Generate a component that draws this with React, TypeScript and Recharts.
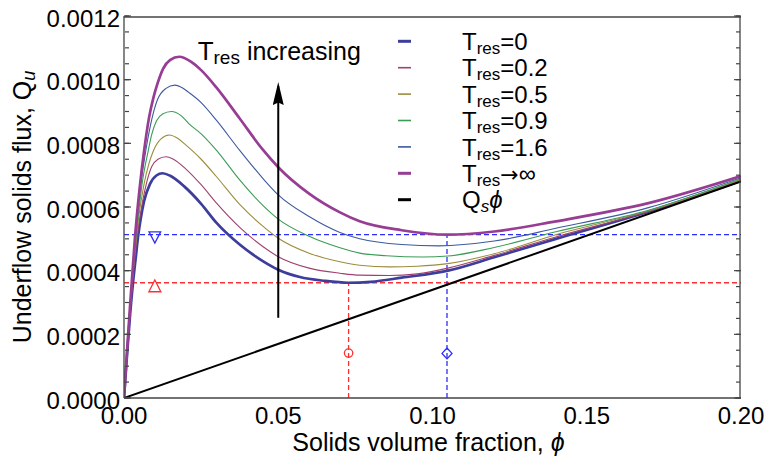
import {
  ComposedChart,
  Legend,
  Line,
  ReferenceLine,
  Scatter,
  XAxis,
  YAxis,
} from 'recharts';

type Pt = [number, number];

// flux values below are written in units of 1e-4
const Q_UNIT = 1e-4;

const PHI_TICKS = [0, 0.05, 0.1, 0.15, 0.2];
const PHI_MINOR_TICKS = [
  0, 0.01, 0.02, 0.03, 0.04, 0.05, 0.06, 0.07, 0.08, 0.09, 0.1,
  0.11, 0.12, 0.13, 0.14, 0.15, 0.16, 0.17, 0.18, 0.19, 0.2,
];
const Q_TICKS = [0, 0.0002, 0.0004, 0.0006, 0.0008, 0.001, 0.0012];
const Q_MINOR_TICKS = [
  0, 0.00005, 0.0001, 0.00015, 0.0002, 0.00025, 0.0003, 0.00035, 0.0004,
  0.00045, 0.0005, 0.00055, 0.0006, 0.00065, 0.0007, 0.00075, 0.0008,
  0.00085, 0.0009, 0.00095, 0.001, 0.00105, 0.0011, 0.00115, 0.0012,
];

// underflow flux curves, [phi, Q_u]
const T_RES_0: Pt[] = [
  [0, 0], [0.001, 1.38], [0.002, 2.65], [0.003, 3.7], [0.0038, 4.4],
  [0.0046, 5.1], [0.0054, 5.62], [0.0065, 6.18], [0.0084, 6.72],
  [0.0105, 6.99], [0.0125, 7.06], [0.015, 6.98], [0.0196, 6.64],
  [0.025, 6.1], [0.03, 5.5], [0.0375, 4.82], [0.045, 4.3], [0.05, 4.03],
  [0.057, 3.8], [0.065, 3.68], [0.0728, 3.62], [0.08, 3.65], [0.09, 3.78],
  [0.105, 4.0], [0.12, 4.42], [0.14, 5.0], [0.17, 5.85], [0.2, 6.82],
];
const T_RES_02: Pt[] = [
  [0, 0], [0.001, 1.42], [0.002, 2.75], [0.003, 3.9], [0.004, 4.85],
  [0.0052, 5.7], [0.0073, 6.75], [0.009, 7.27], [0.011, 7.5],
  [0.0136, 7.58], [0.016, 7.5], [0.02, 7.2], [0.025, 6.7], [0.03, 6.12],
  [0.0375, 5.36], [0.045, 4.76], [0.05, 4.44], [0.06, 4.08], [0.07, 3.92],
  [0.0764, 3.86], [0.086, 3.85], [0.095, 3.9], [0.105, 4.08], [0.12, 4.48],
  [0.14, 5.06], [0.17, 5.86], [0.2, 6.84],
];
const T_RES_05: Pt[] = [
  [0, 0], [0.001, 1.44], [0.002, 2.8], [0.003, 4.0], [0.0048, 5.7],
  [0.0065, 6.72], [0.0079, 7.3], [0.0095, 7.76], [0.012, 8.14],
  [0.0147, 8.26], [0.0175, 8.15], [0.02, 7.95], [0.025, 7.5], [0.03, 6.95],
  [0.0375, 6.08], [0.045, 5.4], [0.05, 5.02], [0.06, 4.55], [0.07, 4.28],
  [0.0764, 4.17], [0.086, 4.12], [0.095, 4.14], [0.105, 4.22], [0.12, 4.53],
  [0.14, 5.13], [0.17, 5.88], [0.2, 6.86],
];
const T_RES_09: Pt[] = [
  [0, 0], [0.001, 1.46], [0.002, 2.85], [0.003, 4.1], [0.0046, 5.7],
  [0.0059, 6.75], [0.0079, 7.79], [0.009, 8.28], [0.0105, 8.7],
  [0.0125, 8.92], [0.0154, 9.0], [0.0185, 8.87], [0.021, 8.62],
  [0.025, 8.3], [0.03, 7.78], [0.0375, 6.85], [0.045, 6.05], [0.05, 5.62],
  [0.06, 5.08], [0.07, 4.72], [0.0764, 4.55], [0.085, 4.47], [0.097, 4.43],
  [0.105, 4.46], [0.12, 4.73], [0.14, 5.22], [0.17, 5.9], [0.2, 6.89],
];
const T_RES_16: Pt[] = [
  [0, 0], [0.001, 1.48], [0.002, 2.9], [0.003, 4.2], [0.0043, 5.7],
  [0.0055, 6.75], [0.0071, 7.79], [0.009, 8.75], [0.0108, 9.36],
  [0.0135, 9.72], [0.0165, 9.83], [0.019, 9.74], [0.021, 9.6],
  [0.025, 9.28], [0.03, 8.72], [0.0375, 7.78], [0.045, 6.9], [0.05, 6.38],
  [0.06, 5.7], [0.07, 5.2], [0.0764, 5.0], [0.09, 4.82], [0.102, 4.78],
  [0.12, 4.93], [0.14, 5.33], [0.17, 5.98], [0.2, 6.92],
];
const T_RES_INF: Pt[] = [
  [0, 0], [0.001, 1.5], [0.002, 2.95], [0.003, 4.3], [0.0036, 5.1],
  [0.0041, 5.65], [0.0052, 6.7], [0.0065, 7.75], [0.0081, 8.8],
  [0.0095, 9.42], [0.0109, 9.89], [0.0127, 10.35], [0.015, 10.62],
  [0.0179, 10.72], [0.0218, 10.56], [0.025, 10.3], [0.03, 9.75],
  [0.0375, 8.78], [0.045, 7.8], [0.05, 7.25], [0.06, 6.42], [0.07, 5.83],
  [0.0764, 5.55], [0.09, 5.27], [0.1047, 5.13], [0.12, 5.23], [0.14, 5.55],
  [0.17, 6.12], [0.2, 6.97],
];
// feed line Q_s * phi
const FEED_LINE: Pt[] = [[0, 0], [0.2, 6.8]];

// minima of the limiting curves
const PHI_MIN_T0 = 0.0728;
const Q_MIN_T0 = 3.62;
const PHI_MIN_INF = 0.1047;
const Q_MIN_INF = 5.13;

// "T_res increasing" arrow, bottom and top
const ARROW_PHI = 0.05;
const ARROW_Q: [number, number] = [2.52, 9.8];

const MARK_DOWN: Pt[] = [[0.01, 5.05]];
const MARK_UP: Pt[] = [[0.01, 3.52]];
const MARK_CIRCLE: Pt[] = [[0.0728, 1.41]];
const MARK_DIAMOND: Pt[] = [[0.1047, 1.4]];

const SERIES = [
  { id: 'tres0', tail: '=0', points: T_RES_0, color: '#3d3d9b', width: 2.7, legendWidth: 3 },
  { id: 'tres02', tail: '=0.2', points: T_RES_02, color: '#a0406f', width: 1.1, legendWidth: 1.6 },
  { id: 'tres05', tail: '=0.5', points: T_RES_05, color: '#9c8d3c', width: 1.1, legendWidth: 1.6 },
  { id: 'tres09', tail: '=0.9', points: T_RES_09, color: '#3c9c55', width: 1.1, legendWidth: 1.6 },
  { id: 'tres16', tail: '=1.6', points: T_RES_16, color: '#3d5a9e', width: 1.1, legendWidth: 1.6 },
  { id: 'tresInf', tail: null, points: T_RES_INF, color: '#973d93', width: 2.7, legendWidth: 3 },
];

const FONT = '"Liberation Sans", Arial, Helvetica, sans-serif';
const FRAME = '#444';
const RED = '#ff3030';
const BLUE = '#2c2cff';

const toRows = (pts: Pt[]) => pts.map(([phi, q]) => ({ phi, q: q * Q_UNIT }));

const downTriangle = (p: any) => (
  <path
    d={`M${p.cx - 5.8},${p.cy - 5.4} L${p.cx + 5.8},${p.cy - 5.4} L${p.cx},${p.cy + 5.8} Z`}
    fill="none"
    stroke={BLUE}
    strokeWidth={1.3}
  />
);
const upTriangle = (p: any) => (
  <path
    d={`M${p.cx - 6},${p.cy + 5.8} L${p.cx + 6},${p.cy + 5.8} L${p.cx},${p.cy - 5.9} Z`}
    fill="none"
    stroke={RED}
    strokeWidth={1.3}
  />
);
const circle = (p: any) => (
  <circle cx={p.cx} cy={p.cy} r={4.2} fill="none" stroke={RED} strokeWidth={1.3} />
);
const diamond = (p: any) => (
  <path
    d={`M${p.cx},${p.cy - 5.4} L${p.cx + 5},${p.cy} L${p.cx},${p.cy + 5.4} L${p.cx - 5},${p.cy} Z`}
    fill="none"
    stroke={BLUE}
    strokeWidth={1.3}
  />
);

function LegendBox() {
  const rowGap = 26.4;
  return (
    <svg width={200} height={200} style={{ overflow: 'visible', fontFamily: FONT }}>
      {SERIES.map((s, i) => (
        <g key={s.id}>
          <line
            x1={18}
            x2={31}
            y1={21.3 + i * rowGap}
            y2={21.3 + i * rowGap}
            stroke={s.color}
            strokeWidth={s.legendWidth}
          />
          <text x={82} y={30 + i * rowGap} fontSize={24} fill="#000">
            T
            <tspan fontSize={17} dy={4}>res</tspan>
            {s.tail ? (
              <tspan fontSize={24} dy={-4}>{s.tail}</tspan>
            ) : (
              <>
                <tspan fontSize={22} dy={-4} fontFamily='"DejaVu Sans", sans-serif'>→</tspan>
                <tspan fontSize={24}>∞</tspan>
              </>
            )}
          </text>
        </g>
      ))}
      <line x1={18} x2={31} y1={21.3 + 6 * rowGap} y2={21.3 + 6 * rowGap} stroke="#000" strokeWidth={3} />
      <text x={82} y={30 + 6 * rowGap} fontSize={24} fill="#000">
        Q
        <tspan fontSize={17} dy={4} fontStyle="italic">s</tspan>
        <tspan fontSize={24} dy={-4} fontStyle="italic">ϕ</tspan>
      </text>
    </svg>
  );
}

const XTitle = (props: any) => {
  const vb = props.viewBox ?? { x: 124, y: 398, width: 617, height: 30 };
  return (
    <text
      x={vb.x + vb.width / 2 - 4}
      y={vb.y + 53}
      textAnchor="middle"
      fontSize={25}
      fontFamily={FONT}
      fill="#000"
    >
      Solids volume fraction, <tspan fontStyle="italic">ϕ</tspan>
    </text>
  );
};

const YTitle = (props: any) => {
  const vb = props.viewBox ?? { x: 34, y: 16, width: 90, height: 382 };
  const cx = vb.x - 3;
  const cy = vb.y + vb.height / 2;
  return (
    <text
      x={cx}
      y={cy}
      transform={`rotate(-90, ${cx}, ${cy})`}
      textAnchor="middle"
      fontSize={25}
      fontFamily={FONT}
      fill="#000"
    >
      Underflow solids flux, Q
      <tspan fontSize={18} dy={4} fontStyle="italic">u</tspan>
    </text>
  );
};

const ArrowLabel = (props: any) => {
  const vb = props.viewBox ?? { x: 278, y: 86 };
  return (
    <text x={vb.x + 1} y={vb.y - 26.5} textAnchor="middle" fontSize={25} fontFamily={FONT} fill="#000">
      <tspan fontSize={26}>T</tspan>
      <tspan fontSize={19} dy={4}>res</tspan>
      <tspan fontSize={25} dy={-4}> increasing</tspan>
    </text>
  );
};

// tick marks only: an empty label keeps the tick lines drawn
const noLabel = () => <g />;

const axisBase = {
  type: 'number' as const,
  allowDataOverflow: true,
  interval: 0 as const,
};

const tickMarks = {
  ...axisBase,
  mirror: true,
  tick: noLabel,
  tickLine: { stroke: FRAME, strokeWidth: 1.2 },
};

export default function App() {
  return (
    <div style={{ position: 'absolute', left: 0, top: 0, width: 770, height: 469, background: '#fff' }}>
      <ComposedChart
        width={770}
        height={469}
        margin={{ top: 16, right: 29, bottom: 41, left: 34 }}
        style={{ fontFamily: FONT }}
      >
        <defs>
          <marker
            id="arrowHead"
            viewBox="0 0 23 11"
            refX={19}
            refY={5.5}
            markerWidth={23}
            markerHeight={11}
            markerUnits="userSpaceOnUse"
            orient="auto"
          >
            <path d="M0,0 L23,5.5 L0,11 L2.5,5.5 Z" fill="#000" />
          </marker>
        </defs>

        {/* labelled axes: bottom and left frame */}
        <XAxis
          {...axisBase}
          xAxisId="phi"
          dataKey="phi"
          domain={[0, 0.2]}
          ticks={PHI_TICKS}
          tickFormatter={(v: number) => v.toFixed(2)}
          tickLine={false}
          tickSize={0}
          tickMargin={9}
          height={30}
          axisLine={{ stroke: FRAME, strokeWidth: 1.3 }}
          tick={{ fontSize: 24, fill: '#000', fontFamily: FONT }}
          label={XTitle}
        />
        <YAxis
          {...axisBase}
          yAxisId="q"
          domain={[0, 0.0012]}
          ticks={Q_TICKS}
          tickFormatter={(v: number) => v.toFixed(4)}
          tickLine={false}
          tickSize={0}
          tickMargin={4}
          width={90}
          axisLine={{ stroke: FRAME, strokeWidth: 1.3 }}
          tick={{ fontSize: 24, fill: '#000', fontFamily: FONT, dy: 2 }}
          label={YTitle}
        />

        {/* inward frame ticks on all four sides */}
        <XAxis {...tickMarks} xAxisId="phiMinB" domain={[0, 0.2]} ticks={PHI_MINOR_TICKS}
          tickSize={4} height={1} axisLine={false} />
        <XAxis {...tickMarks} xAxisId="phiMajB" domain={[0, 0.2]} ticks={PHI_TICKS}
          tickSize={7} height={1} axisLine={false} />
        <XAxis {...tickMarks} xAxisId="phiMinT" orientation="top" domain={[0, 0.2]} ticks={PHI_MINOR_TICKS}
          tickSize={4} height={1} axisLine={{ stroke: FRAME, strokeWidth: 1.3 }} />
        <XAxis {...tickMarks} xAxisId="phiMajT" orientation="top" domain={[0, 0.2]} ticks={PHI_TICKS}
          tickSize={7} height={1} axisLine={false} />
        <YAxis {...tickMarks} yAxisId="qMinL" domain={[0, 0.0012]} ticks={Q_MINOR_TICKS}
          tickSize={4} width={1} axisLine={false} />
        <YAxis {...tickMarks} yAxisId="qMajL" domain={[0, 0.0012]} ticks={Q_TICKS}
          tickSize={7} width={1} axisLine={false} />
        <YAxis {...tickMarks} yAxisId="qMinR" orientation="right" domain={[0, 0.0012]} ticks={Q_MINOR_TICKS}
          tickSize={4} width={1} axisLine={{ stroke: FRAME, strokeWidth: 1.3 }} />
        <YAxis {...tickMarks} yAxisId="qMajR" orientation="right" domain={[0, 0.0012]} ticks={Q_TICKS}
          tickSize={7} width={1} axisLine={false} />

        {/* dashed guides through the two minima */}
        <ReferenceLine xAxisId="phi" yAxisId="q" y={Q_MIN_INF * Q_UNIT} stroke={BLUE} strokeWidth={1.3}
          strokeDasharray="5 3" />
        <ReferenceLine xAxisId="phi" yAxisId="q" y={Q_MIN_T0 * Q_UNIT} stroke={RED} strokeWidth={1.3}
          strokeDasharray="5 3" />
        <ReferenceLine
          xAxisId="phi"
          yAxisId="q"
          segment={[{ x: PHI_MIN_T0, y: 0 }, { x: PHI_MIN_T0, y: Q_MIN_T0 * Q_UNIT }]}
          stroke={RED}
          strokeWidth={1.3}
          strokeDasharray="5 3"
        />
        <ReferenceLine
          xAxisId="phi"
          yAxisId="q"
          segment={[{ x: PHI_MIN_INF, y: 0 }, { x: PHI_MIN_INF, y: Q_MIN_INF * Q_UNIT }]}
          stroke={BLUE}
          strokeWidth={1.3}
          strokeDasharray="5 3"
        />

        {SERIES.map((s) => (
          <Line
            key={s.id}
            xAxisId="phi"
            yAxisId="q"
            data={toRows(s.points)}
            dataKey="q"
            type="monotone"
            stroke={s.color}
            strokeWidth={s.width}
            dot={false}
            activeDot={false}
            isAnimationActive={false}
          />
        ))}
        <Line
          xAxisId="phi"
          yAxisId="q"
          data={toRows(FEED_LINE)}
          dataKey="q"
          type="linear"
          stroke="#000"
          strokeWidth={2}
          dot={false}
          activeDot={false}
          isAnimationActive={false}
        />

        <ReferenceLine
          xAxisId="phi"
          yAxisId="q"
          segment={[
            { x: ARROW_PHI, y: ARROW_Q[0] * Q_UNIT },
            { x: ARROW_PHI, y: ARROW_Q[1] * Q_UNIT },
          ]}
          stroke="#000"
          strokeWidth={2}
          markerEnd="url(#arrowHead)"
          label={ArrowLabel}
        />

        <Scatter xAxisId="phi" yAxisId="q" data={toRows(MARK_DOWN)} dataKey="q" shape={downTriangle}
          isAnimationActive={false} />
        <Scatter xAxisId="phi" yAxisId="q" data={toRows(MARK_UP)} dataKey="q" shape={upTriangle}
          isAnimationActive={false} />
        <Scatter xAxisId="phi" yAxisId="q" data={toRows(MARK_CIRCLE)} dataKey="q" shape={circle}
          isAnimationActive={false} />
        <Scatter xAxisId="phi" yAxisId="q" data={toRows(MARK_DIAMOND)} dataKey="q" shape={diamond}
          isAnimationActive={false} />

        <Legend
          layout="vertical"
          align="center"
          verticalAlign="middle"
          content={() => <LegendBox />}
          wrapperStyle={{ position: 'absolute', left: 380, top: 20, width: 200, height: 200 }}
        />
      </ComposedChart>
    </div>
  );
}
